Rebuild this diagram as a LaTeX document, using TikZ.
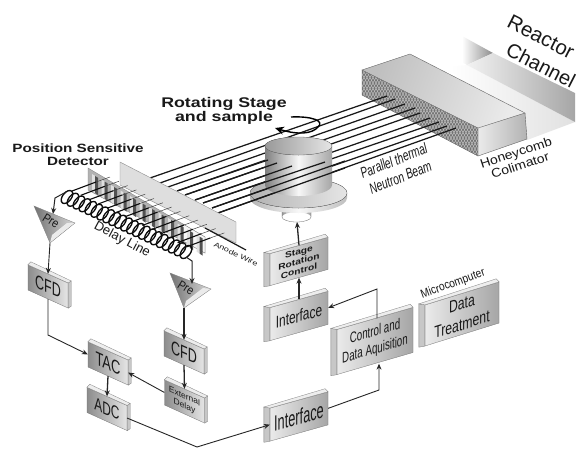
\documentclass[tikz,border=0pt]{standalone}
\usepackage{fontspec}
\setmainfont{Liberation Sans}
\usetikzlibrary{arrows.meta}
\newcommand{\fsz}[1]{\fontsize{#1}{#1}\selectfont}
\newcommand{\nar}[2]{\scalebox{#1}[1]{#2}}
\newcommand{\sideR}[1]{%
  \filldraw[sidecol] (#1.north east) -- ++(3,-2) -- ([shift={(3pt,2pt)}]#1.south east) -- (#1.south east) -- cycle;
  \filldraw[lipcol] (#1.north west) -- ++(3,-3) -- ([shift={(3pt,2pt)}]#1.north east) -- (#1.north east) -- cycle;}
\newcommand{\sideL}[1]{%
  \filldraw[sidecol] (#1.north west) -- ++(-6,-1) -- ([shift={(-6pt,-1pt)}]#1.south west) -- (#1.south west) -- cycle;
  \filldraw[lipcol] (#1.north west) -- ++(-6,-1) -- ([shift={(-3pt,3pt)}]#1.north east) -- (#1.north east) -- cycle;}
\tikzset{
  sidecol/.style={fill=black!22,draw=black!50,line width=.3pt},
  lipcol/.style={fill=black!7,draw=black!50,line width=.3pt},
  boxbase/.style={inner sep=0pt,align=center,draw=black!55,line width=.3pt,text=black!90},
  boxdown/.style={boxbase,yslant=-.45,minimum width=40pt,minimum height=25pt,left color=black!45,right color=black!10},
  boxup/.style={boxbase,yslant=.28,minimum width=58pt,minimum height=33pt,left color=black!8,right color=black!35},
  conn/.style={draw=black!85,line width=.9pt,-{Stealth[length=6pt,width=5pt]}},
  connb/.style={draw=black!85,line width=1.3pt,-{Stealth[length=6pt,width=5pt]}},
  beam/.style={line width=1.25pt,black!90},
  lab/.style={inner sep=0pt,align=center,text=black!90}
}
\begin{document}
\begin{tikzpicture}[x=1pt,y=-1pt]
\useasboundingbox (0,0) rectangle (581,448);
\fill[white] (0,0) rectangle (581,448);
% reactor channel
\shade[left color=white,right color=black!12] (450,67) -- (467,65) -- (575,122) -- (527,140) -- (490,120) -- cycle;
\shade[left color=white,right color=black!45] (462,36) -- (493,53) -- (467,65) -- (462,62) -- cycle;
\shade[left color=black!5,right color=black!35] (467,65) -- (493,53) -- (575,93) -- (575,122) -- cycle;
% collimator
\shade[left color=black!25,right color=black!8,shading angle=70] (362,70) -- (410,54) -- (525,113) -- (478,128) -- cycle;
\shade[left color=black!8,right color=black!30] (478,128) -- (525,113) -- (527,139) -- (478,156) -- cycle;
\begin{scope}
  \clip (362,70) -- (478,128) -- (478,156) -- (362,95) -- cycle;
  \fill[black!55] (355,50) rectangle (485,160);
  \foreach \k in {0,3,...,240} {
    \draw[white!75!black,line width=.55pt] (355+\k,50) -- +(-60,110);
    \draw[white!75!black,line width=.55pt] (250+\k,50) -- +(60,110);
  }
\end{scope}
\draw[black!60,line width=.4pt] (362,70) -- (410,54) -- (525,113) -- (478,128) -- cycle (478,128) -- (478,156) -- (527,139) -- (525,113) (362,70) -- (362,95) -- (478,156);
% stage plate and stem
\shade[left color=black!40,right color=black!35,middle color=black!15] (282,205) -- (311,205) -- (311,217) arc[start angle=0,end angle=180,x radius=14.5pt,y radius=5pt] -- cycle;
\draw[black!60,line width=.3pt] (282,205) -- (282,217) arc[start angle=180,end angle=360,x radius=14.5pt,y radius=5pt] -- (311,205);
\shade[left color=black!30,right color=black!25,middle color=black!3] (250,193) -- (250,198) arc[start angle=180,end angle=360,x radius=48.5pt,y radius=15pt] -- (347,193) arc[start angle=0,end angle=180,x radius=48.5pt,y radius=15pt] -- cycle;
\fill[left color=black!30,right color=black!10] (298.5,193) ellipse[x radius=48.5pt,y radius=15pt];
\draw[black!60,line width=.3pt] (298.5,193) ellipse[x radius=48.5pt,y radius=15pt];
% beams behind cylinder
\foreach \xa/\ya/\xb/\yb in {150/178/387/96,160/183/395/99,168/187/405/104,177/191/415/108,185/195/420/113,195/200/430/118,203/203/439/122,212/208/447/126,218/213/456/128}
  \draw[beam] (\xa,\ya) -- (\xb,\yb);
% cylinder
\shade[left color=black!50,right color=black!35,middle color=black!3] (265,146) -- (265,185) arc[start angle=180,end angle=360,x radius=33.5pt,y radius=11pt] -- (332,146) arc[start angle=0,end angle=180,x radius=33.5pt,y radius=9pt] -- cycle;
\fill[left color=black!40,right color=black!10] (298.5,146) ellipse[x radius=33.5pt,y radius=9pt];
\draw[black!55,line width=.3pt] (298.5,146) ellipse[x radius=33.5pt,y radius=9pt];
% beams in front of cylinder
\draw[beam] (177,191) -- (268,160);
\draw[beam] (185,195) -- (277,163);
\draw[beam] (195,200) -- (292,166);
\draw[beam] (203,203) -- (325,162);
\draw[beam] (212,208) -- (345,161);
\draw[beam] (218,213) -- (345,168);
% rotation arrow
\coordinate (rotS) at (291,117);
\coordinate (rotT) at (275,128);
\draw[line width=1.4pt,-{Stealth[length=9pt,width=8pt]}] (rotS) .. controls (312,116) and (325,121) .. (318,127) .. controls (312,134) and (298,135) .. (rotT);
% detector plate
\filldraw[fill=black!13,draw=black!45,line width=.4pt] (120,162) -- (236,222) -- (236,243) -- (205,228) -- (120,185) -- cycle;
\draw[line width=1.2pt,black!90] (205,228) -- (246,250);
% comb
\filldraw[fill=black!30,draw=black!50,line width=.3pt] (88,168) -- (205,237) -- (205,253) -- (88,190) -- cycle;
\filldraw[fill=black!4,draw=black!50,line width=.3pt] (183,224) -- (205,237) -- (205,253) -- (183,241) -- cycle;
\foreach \i in {0,...,11} {
  \fill[black!12] ({92+\i*9.5},{174+\i*5.5}) -- +(3,1.8) -- +(3,19) -- +(0,17) -- cycle;
  \fill[black!68] ({95+\i*9.5},{176+\i*5.5}) -- +(3,1.8) -- +(3,19) -- +(0,17) -- cycle;
}
% wires
\foreach \i in {0,...,13} {
  \draw[line width=1.1pt,black!95] ({72+\i*8.8},{191+\i*4.3}) -- +(24,-9);
  \draw[line width=.5pt,black!75] ({96+\i*8.8},{182+\i*4.3}) -- +(14,-5);
}
% delay line coil
\foreach \i in {0,...,20}
  \draw[line width=1.35pt,black!95] ({67+\i*5.95},{197+\i*2.75}) ellipse[x radius=7.5pt,y radius=4.4pt,rotate=52];
% preamps
\coordinate (pl1) at (34,206);
\coordinate (pl2) at (75,223);
\coordinate (pl3) at (50,243);
\shade[left color=black!55,right color=black!15] (pl1) -- (pl2) -- (pl3) -- cycle;
\fill[black!8] (pl2) -- (pl3) -- (52,235) -- (67,223) -- cycle;
\draw[black!50,line width=.3pt] (pl1) -- (pl2) -- (pl3) -- cycle;
\node[lab,rotate=-32,font=\fsz{12.5}] (preL) at (51,221) {\nar{.85}{Pre}};
\coordinate (pr1) at (170,273);
\coordinate (pr2) at (211,289);
\coordinate (pr3) at (184,308);
\shade[left color=black!55,right color=black!15] (pr1) -- (pr2) -- (pr3) -- cycle;
\fill[black!8] (pr2) -- (pr3) -- (186,301) -- (203,288) -- cycle;
\draw[black!50,line width=.3pt] (pr1) -- (pr2) -- (pr3) -- cycle;
\node[lab,rotate=-32,font=\fsz{12.5}] (preR) at (186,288) {\nar{.85}{Pre}};
% coil leads
\coordinate (leadL) at (66,192);
\coordinate (leadLb) at (55,198);
\coordinate (leadLt) at (53,214);
\coordinate (leadR) at (186,257);
\coordinate (leadRb) at (192,261);
\coordinate (leadRt) at (192,284);
\draw[connb,line width=1pt] (leadL) -- (leadLb) -- (leadLt);
\draw[connb,line width=1pt] (leadR) -- (leadRb) -- (leadRt);
% boxes
\node[boxdown,font=\fsz{19}] (cfdL) at (48,286.5) {\nar{.66}{CFD}}; \sideR{cfdL}
\node[boxdown,font=\fsz{19}] (tac) at (108,363.5) {\nar{.68}{TAC}}; \sideR{tac}
\node[boxdown,font=\fsz{18}] (adc) at (107,409) {\nar{.66}{ADC}}; \sideR{adc}
\node[boxdown,font=\fsz{19}] (cfdR) at (184,352.5) {\nar{.66}{CFD}}; \sideR{cfdR}
\node[boxdown,font=\fsz{8.5}] (ext) at (184.5,401.5) {External\\[1pt]Delay}; \sideR{ext}
\node[boxup,minimum height=32pt,font=\fsz{8.5}\bfseries] (stage) at (299,261.5) {\nar{1.2}{Stage}\\[1pt]\nar{1.2}{Rotation}\\[1pt]\nar{1.2}{Control}}; \sideL{stage}
\node[boxup,font=\fsz{17}] (ifU) at (299,316) {\nar{.7}{Interface}}; \sideL{ifU}
\node[boxup,font=\fsz{22}] (ifL) at (299,416.5) {\nar{.58}{Interface}}; \sideL{ifL}
\node[boxup,yslant=.01,minimum width=76pt,minimum height=45pt,font=\fsz{15}] (ctrl) at (375,341) {\nar{.65}{Control and}\\[3pt]\nar{.65}{Data Aquisition}}; \sideL{ctrl}
\node[boxup,yslant=.03,minimum width=74pt,minimum height=41pt,font=\fsz{17}] (data) at (462,314) {\nar{.72}{Data}\\[4pt]\nar{.72}{Treatment}}; \sideL{data}
% connectors
\coordinate (cfdBend) at (48,335);
\coordinate (adcV) at (197,447);
\coordinate (ifBend) at (379,390);
\coordinate (ctrlBend) at (377,289);
\coordinate (stemB) at (297,222);
\draw[conn] (pl3) -- (cfdL.north);
\draw[connb] (pr3) -- (cfdR.north);
\draw[conn] (cfdL.south) -- (cfdBend) -- (tac.west);
\draw[connb] (cfdR.south) -- (ext.north);
\draw[conn] (ext.west) -- (tac.east);
\draw[connb] (tac.south) -- (adc.north);
\draw[conn] (adc.east) -- (adcV) -- (ifL.west);
\draw[conn] (ifL.east) -- (ifBend) -- ([xshift=4pt]ctrl.south);
\draw[conn] ([xshift=2pt]ctrl.north) -- (ctrlBend) -- (ifU.east);
\draw[connb] (ifU.north) -- (stage.south);
\draw[connb] (stage.north) -- (stemB);
% labels
\node[lab,font=\fsz{14}\bfseries] (rotLab) at (224,111) {\nar{1.27}{Rotating Stage}\\[0pt]\nar{1.27}{and sample}};
\node[lab,font=\fsz{12}\bfseries] (psdLab) at (78,154.5) {\nar{1.27}{Position Sensitive}\\[1pt]\nar{1.27}{Detector}};
\node[lab,rotate=-28,font=\fsz{13}] (delayLab) at (122,240) {Delay Line};
\node[lab,rotate=-25,font=\fsz{7}] (anodeLab) at (236,254) {\nar{1.3}{Anode Wire}};
\node[lab,rotate=-27,font=\fsz{20.5}] (reactorLab) at (541,37) {Reactor};
\node[lab,rotate=-27,font=\fsz{20}] (channelLab) at (541,65) {Channel};
\node[lab,rotate=18,font=\fsz{12.5}] (honeyLab) at (518,159) {\nar{1.12}{Honeycomb}\\[1pt]\nar{1.12}{Colimator}};
\node[lab,rotate=22,font=\fsz{15}\itshape] (beamLab) at (397,169) {\nar{.68}{Parallel thermal}\\[3pt]\nar{.68}{Neutron Beam}};
\node[lab,rotate=20,font=\fsz{12}] (microLab) at (453,284) {\nar{.85}{Microcomputer}};
\end{tikzpicture}
\end{document}
